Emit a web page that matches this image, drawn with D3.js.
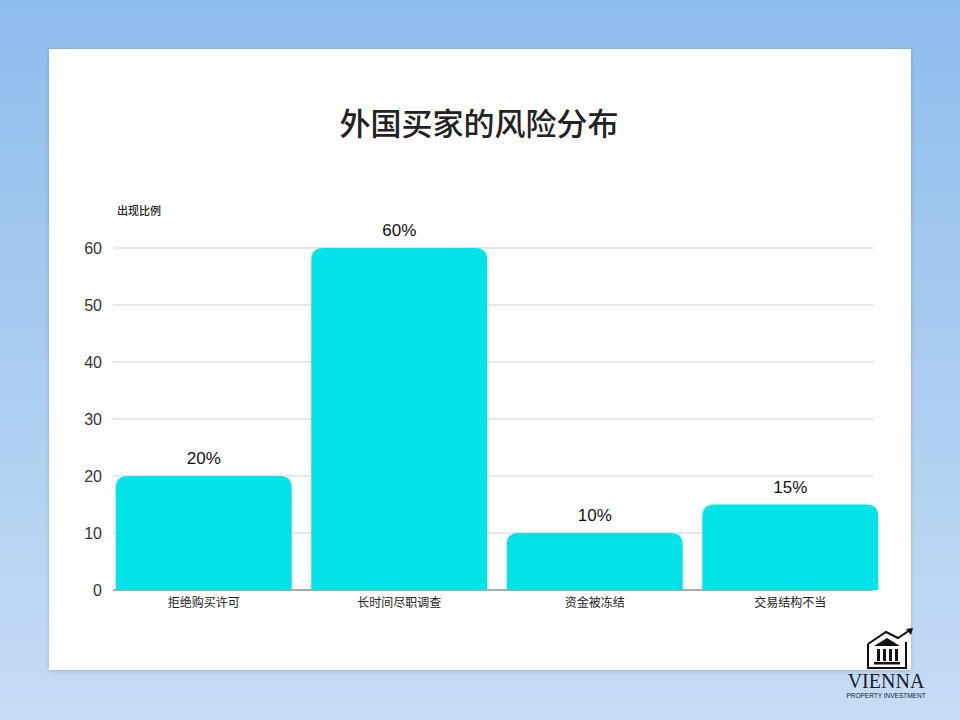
<!DOCTYPE html>
<html><head><meta charset="utf-8">
<script src="https://cdn.jsdelivr.net/npm/d3@7"></script>
<style>html,body{margin:0;padding:0;}svg{display:block;}</style>
</head><body>
<script>
const categories = ["拒绝购买许可","长时间尽职调查","资金被冻结","交易结构不当"];
const values = [20, 60, 10, 15];
const yTicks = [0,10,20,30,40,50,60];
const title = "外国买家的风险分布";
const yTitle = "出现比例";

const W=960,H=720;
const svg=d3.select("body").append("svg").attr("width",W).attr("height",H);
const defs=svg.append("defs");
const bg=defs.append("linearGradient").attr("id","bg").attr("x1",0).attr("y1",0).attr("x2",0).attr("y2",1);
bg.append("stop").attr("offset","0%").attr("stop-color","#8dbdec");
bg.append("stop").attr("offset","100%").attr("stop-color","#c6ddf5");
const f=defs.append("filter").attr("id","sh").attr("x","-5%").attr("y","-5%").attr("width","110%").attr("height","110%");
f.append("feDropShadow").attr("dx",0).attr("dy",1).attr("stdDeviation",2).attr("flood-color","#000").attr("flood-opacity",0.18);

svg.append("rect").attr("width",W).attr("height",H).attr("fill","url(#bg)");
svg.append("rect").attr("x",49).attr("y",49).attr("width",862).attr("height",621).attr("fill","#fff").attr("filter","url(#sh)");

const font="'Noto Sans CJK SC','Noto Sans',sans-serif";
svg.append("text").attr("x",479).attr("y",135).attr("text-anchor","middle")
  .attr("font-family",font).attr("font-size",31).attr("font-weight",500).attr("fill","#222").text(title);

const x=d3.scaleBand().domain(categories).range([106,888]).paddingInner(0.1).paddingOuter(0.05);
const y=d3.scaleLinear().domain([0,60]).range([590,248]);

// grid
const grid=svg.append("g");
grid.selectAll("line").data(yTicks.filter(d=>d>0)).join("line")
  .attr("x1",113).attr("x2",873).attr("y1",d=>y(d)).attr("y2",d=>y(d))
  .attr("stroke","#cfcfcf").attr("stroke-width",1);
grid.append("line").attr("x1",113).attr("x2",873).attr("y1",y(0)).attr("y2",y(0)).attr("stroke","#555").attr("stroke-width",1);

// y axis
const yAxis=svg.append("g").attr("transform","translate(102,0)")
  .call(d3.axisLeft(y).tickValues(yTicks).tickSize(0).tickPadding(0));
yAxis.select(".domain").remove();
yAxis.selectAll("text").attr("font-family","'Liberation Sans',Arial,sans-serif").attr("font-size",16).attr("fill","#333");

svg.append("text").attr("x",117).attr("y",215).attr("font-family",font).attr("font-size",11).attr("font-weight",500).attr("fill","#222").text(yTitle);

// bars with rounded top
const r=12;
function barPath(x0,w,yt,yb){
  const rr=Math.min(r,(yb-yt),w/2);
  return `M${x0},${yb}V${yt+rr}Q${x0},${yt} ${x0+rr},${yt}H${x0+w-rr}Q${x0+w},${yt} ${x0+w},${yt+rr}V${yb}Z`;
}
svg.append("g").selectAll("path").data(values).join("path")
  .attr("d",(d,i)=>barPath(x(categories[i]),x.bandwidth(),y(d),y(0)))
  .attr("fill","#03e3e7");

svg.append("g").selectAll("text").data(values).join("text")
  .attr("x",(d,i)=>x(categories[i])+x.bandwidth()/2).attr("y",d=>y(d)-12)
  .attr("text-anchor","middle").attr("font-family","'Liberation Sans',Arial,sans-serif").attr("font-size",17).attr("fill","#111")
  .text(d=>d+"%");

// x axis labels
const xAxis=svg.append("g").attr("transform","translate(0,590)")
  .call(d3.axisBottom(x).tickSize(0).tickPadding(8));
xAxis.select(".domain").remove();
xAxis.selectAll("text").attr("font-family",font).attr("font-size",12).attr("fill","#222");

// logo
const lg=svg.append("g").attr("transform","translate(866,628)");
lg.append("path").attr("d","M2,16 L20,4 L32,10 L44,2").attr("fill","none").attr("stroke","#111").attr("stroke-width",2);
lg.append("path").attr("d","M40,1 L47,0 L45,7 Z").attr("fill","#111");
lg.append("path").attr("d","M2,16 L2,40 L40,40 L40,14").attr("fill","none").attr("stroke","#111").attr("stroke-width",2);
lg.append("path").attr("d","M8,18 L21,10 L34,18 Z").attr("fill","#111");
[11,17,23,29].forEach(cx=>lg.append("rect").attr("x",cx).attr("y",21).attr("width",3).attr("height",12).attr("fill","#111"));
lg.append("rect").attr("x",8).attr("y",34).attr("width",26).attr("height",2.5).attr("fill","#111");
svg.append("text").attr("x",886).attr("y",688).attr("text-anchor","middle").attr("font-family","'Liberation Serif','DejaVu Serif',serif").attr("font-size",20).attr("fill","#1a1a2a").text("VIENNA");
svg.append("text").attr("x",886).attr("y",698).attr("text-anchor","middle").attr("font-family","'Liberation Sans',sans-serif").attr("font-size",6.5).attr("fill","#1a1a2a").text("PROPERTY INVESTMENT");
</script>
</body></html>
